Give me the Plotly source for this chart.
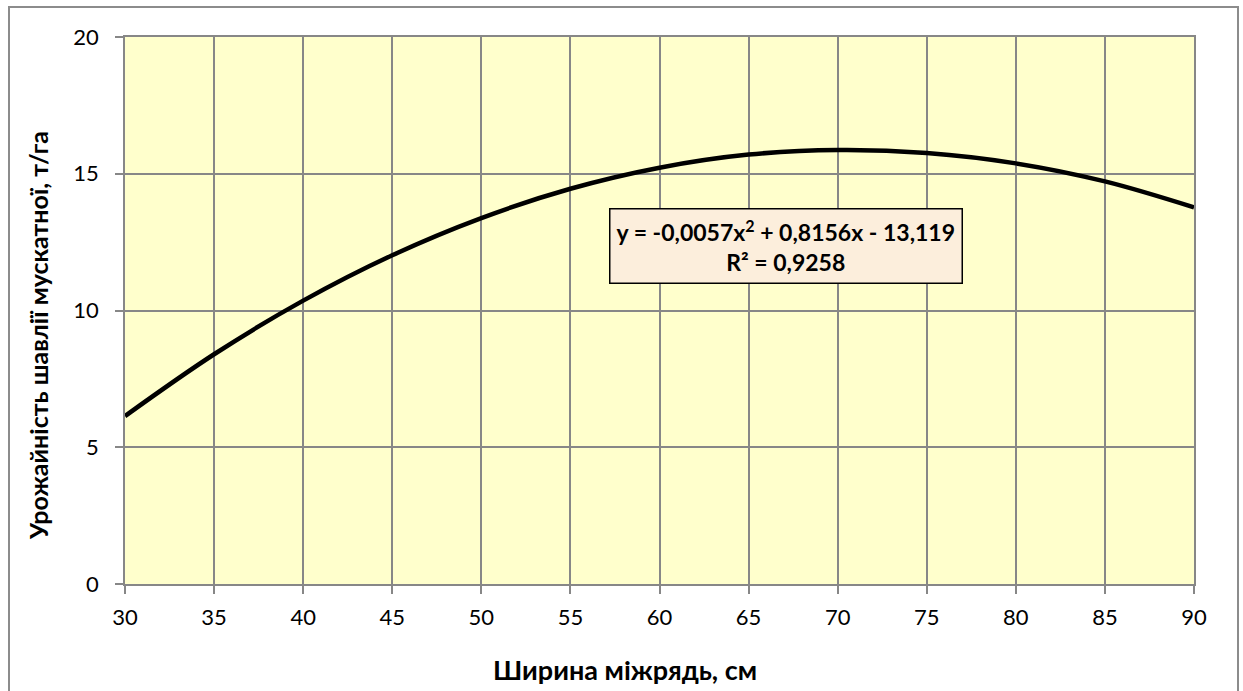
import plotly.graph_objects as go

# Row spacing (cm) and fitted yield of clary sage (t/ha)
row_width = [30, 35, 40, 45, 50, 55, 60, 65, 70, 75, 80, 85, 90]
yield_t_ha = [6.14, 8.40, 10.36, 12.02, 13.38, 14.45, 15.22, 15.70, 15.87, 15.76, 15.38, 14.72, 13.77]

x_ticks = [30, 35, 40, 45, 50, 55, 60, 65, 70, 75, 80, 85, 90]
y_ticks = [0, 5, 10, 15, 20]

x_title = "Ширина міжрядь, см"
y_title = "Урожайність шавлії мускатної, т/га"
eq_text = "y = -0,0057x<sup>2</sup> + 0,8156x - 13,119<br>R² = 0,9258"

W, H = 1243, 691
L, R, T, B = 125, 49, 37, 107
FONT = "Lato"
GRID = "#878787"

fig = go.Figure()
fig.add_trace(go.Scatter(
    x=row_width, y=yield_t_ha, mode="lines",
    line=dict(color="black", width=4.5, shape="spline", smoothing=1.0),
    hoverinfo="skip", showlegend=False,
))

axis_common = dict(
    showgrid=True, gridcolor=GRID, gridwidth=1.5,
    showline=True, linecolor=GRID, linewidth=1.5, mirror=True,
    ticks="outside", ticklen=8, tickwidth=1.5, tickcolor=GRID,
    tickfont=dict(family=FONT, size=22, color="black"),
    zeroline=False, fixedrange=True,
)

fig.update_xaxes(range=[30, 90], tickvals=x_ticks, ticklabelstandoff=5, **axis_common)
fig.update_yaxes(range=[0, 20], tickvals=y_ticks, ticklabelstandoff=12, **axis_common)

pw, ph = W - L - R, H - T - B

def px(xpix):
    return (xpix - L) / pw

def py(ypix):
    return (H - B - ypix) / ph

fig.update_layout(
    width=W, height=H,
    margin=dict(l=L, r=R, t=T, b=B),
    paper_bgcolor="white",
    plot_bgcolor="#FFFFCC",
    font=dict(family=FONT, color="black"),
    shapes=[
        # outer frame of the chart area (bottom edge runs past the page)
        dict(type="rect", xref="paper", yref="paper",
             x0=px(9), x1=px(1238), y0=py(696), y1=py(7),
             line=dict(color="#8C8C8C", width=2), layer="below"),
    ],
    annotations=[
        dict(text=f"<b>{x_title}</b>", xref="paper", yref="paper",
             x=px(625), y=py(669), showarrow=False,
             font=dict(family=FONT, size=27, color="black"),
             xanchor="center", yanchor="middle"),
        dict(text=f"<b>{y_title}</b>", xref="paper", yref="paper",
             x=px(38), y=py(336), showarrow=False, textangle=-90,
             font=dict(family=FONT, size=25, color="black"),
             xanchor="center", yanchor="middle"),
        dict(text=f"<b>{eq_text}</b>", xref="paper", yref="paper",
             x=px(786), y=py(246), showarrow=False,
             font=dict(family=FONT, size=23, color="black"),
             align="center", xanchor="center", yanchor="middle",
             bgcolor="#FCEEDC", bordercolor="black", borderwidth=1.5,
             borderpad=6),
    ],
)

fig.write_html("out.html")
